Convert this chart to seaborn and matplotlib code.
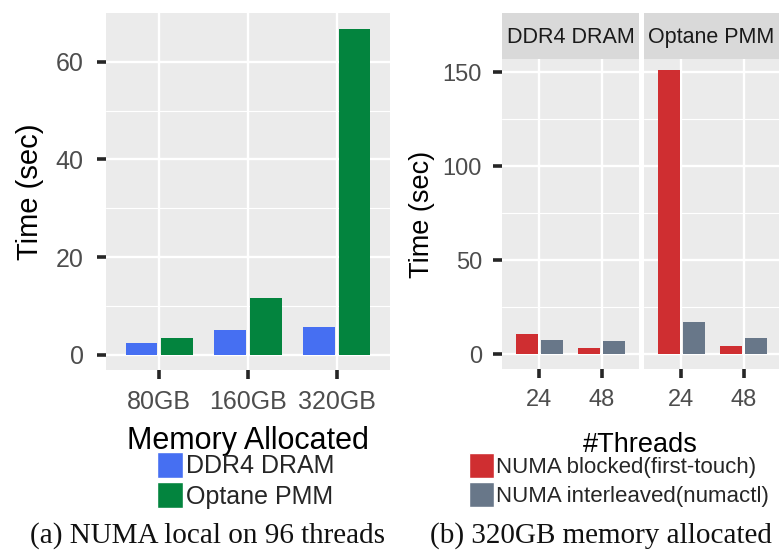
import numpy as np
import pandas as pd
import matplotlib
matplotlib.use("Agg")
import matplotlib.pyplot as plt
from matplotlib.patches import Patch
from matplotlib.ticker import FixedLocator
import seaborn as sns

# ---------------- data ----------------
mem_sizes = ["80GB", "160GB", "320GB"]
dram_local = [2.4, 5.1, 5.8]
optane_local = [3.4, 11.6, 66.6]

threads = ["24", "48"]
dram_blocked = [10.6, 3.5]
dram_interleaved = [7.8, 6.9]
pmm_blocked = [151.0, 4.3]
pmm_interleaved = [17.3, 8.7]

mem_types = ["DDR4 DRAM", "Optane PMM"]
numa_modes = ["NUMA blocked(first-touch)", "NUMA interleaved(numactl)"]

# ---------------- style ----------------
sns.set_style("darkgrid", {"axes.facecolor": "#ebebeb", "grid.color": "white"})
plt.rcParams["font.family"] = ["Liberation Sans", "DejaVu Sans"]
TICK_C = "#262626"
LAB_C = "#4d4d4d"
TICK_LEN = 6.5
TICK_W = 2.6
plt.rcParams.update({
    "xtick.bottom": True, "ytick.left": True,
    "xtick.major.size": TICK_LEN, "ytick.major.size": TICK_LEN,
    "xtick.major.width": TICK_W, "ytick.major.width": TICK_W,
    "xtick.color": TICK_C, "ytick.color": TICK_C,
    "xtick.labelcolor": LAB_C, "ytick.labelcolor": LAB_C,
    "xtick.direction": "out", "ytick.direction": "out",
})

C_BLUE = "#466ff2"
C_GREEN = "#03843e"
C_RED = "#cf2e31"
C_SLATE = "#687789"

W, H = 779, 553
fig = plt.figure(figsize=(W / 100, H / 100), dpi=100)


def rect(x0, y0, x1, y1):
    return [x0 / W, 1 - y1 / H, (x1 - x0) / W, (y1 - y0) / H]


def style_axis(ax, ylim, major, minor, xlim, fs, ypad, show_ylab=True):
    ax.set_xlim(*xlim)
    ax.set_ylim(*ylim)
    ax.yaxis.set_major_locator(FixedLocator(major))
    ax.yaxis.set_minor_locator(FixedLocator(minor))
    ax.set_axisbelow(True)
    ax.grid(False)
    ax.yaxis.grid(True, which="major", color="white", lw=1.7)
    ax.yaxis.grid(True, which="minor", color="white", lw=0.8)
    ax.xaxis.grid(True, which="major", color="white", lw=1.7)
    for s in ax.spines.values():
        s.set_visible(False)
    ax.tick_params(axis="both", which="major", length=TICK_LEN, width=TICK_W,
                   color=TICK_C, labelcolor=LAB_C, labelsize=fs,
                   bottom=True, left=True)
    ax.tick_params(axis="y", which="major", pad=ypad)
    ax.tick_params(axis="x", which="major", pad=8)
    ax.tick_params(which="minor", length=0)
    if not show_ylab:
        ax.tick_params(axis="y", labelleft=False, left=False)
    ax.set_xlabel("")
    ax.set_ylabel("")


# ---------------- panel (a) ----------------
df_a = pd.DataFrame({
    "mem": mem_sizes * 2,
    "time": dram_local + optane_local,
    "type": [mem_types[0]] * 3 + [mem_types[1]] * 3,
})
ax_a = fig.add_axes(rect(106, 13, 390, 370))
sns.barplot(data=df_a, x="mem", y="time", hue="type", order=mem_sizes,
            hue_order=mem_types, palette=[C_BLUE, C_GREEN], width=0.8,
            gap=0.1, saturation=1, legend=False, ax=ax_a, errorbar=None,
            linewidth=0)
style_axis(ax_a, (-3.07, 69.95), [0, 20, 40, 60], [10, 30, 50, 70],
           (-0.6, 2.6), 18, 9.5)

fig.text(30 / W, 1 - 192 / H, "Time (sec)", rotation=90, ha="center",
         va="center", fontsize=21, color="black")
fig.text(248 / W, 1 - 449 / H, "Memory Allocated", ha="center",
         va="baseline", fontsize=22, color="black")

fs_l = 18
fig.legend(handles=[Patch(facecolor=C_BLUE, label=mem_types[0]),
                    Patch(facecolor=C_GREEN, label=mem_types[1])],
           loc="upper left", bbox_to_anchor=(157 / W, 1 - 452 / H),
           frameon=False, fontsize=fs_l, handlelength=1.04,
           handleheight=1.22, handletextpad=0.1, labelspacing=0.15,
           borderpad=0, borderaxespad=0)

# ---------------- panel (b) ----------------
facets = [
    (mem_types[0], dram_blocked, dram_interleaved, 502, 639),
    (mem_types[1], pmm_blocked, pmm_interleaved, 644, 781),
]
for i, (name, blk, itl, x0, x1) in enumerate(facets):
    df_b = pd.DataFrame({
        "threads": threads * 2,
        "time": blk + itl,
        "mode": [numa_modes[0]] * 2 + [numa_modes[1]] * 2,
    })
    ax = fig.add_axes(rect(x0, 59, x1, 369))
    sns.barplot(data=df_b, x="threads", y="time", hue="mode", order=threads,
                hue_order=numa_modes, palette=[C_RED, C_SLATE], width=0.8,
                gap=0.1, saturation=1, legend=False, ax=ax, errorbar=None,
                linewidth=0)
    style_axis(ax, (-7.8, 157.1), [0, 50, 100, 150], [25, 75, 125],
               (-0.6, 1.6), 17, 8, show_ylab=(i == 0))
    sax = fig.add_axes(rect(x0, 13, x1, 59))
    sax.set_facecolor("#d9d9d9")
    sax.set_xticks([])
    sax.set_yticks([])
    sax.grid(False)
    for s in sax.spines.values():
        s.set_visible(False)
    sax.text(0.5 if i == 0 else 0.49, 0.46, name, transform=sax.transAxes,
             ha="center", va="center", fontsize=15.5, color="#1a1a1a")

fig.text(422 / W, 1 - 214 / H, "Time (sec)", rotation=90, ha="center",
         va="center", fontsize=19.5, color="black")
fig.text(640 / W, 1 - 452 / H, "#Threads", ha="center", va="baseline",
         fontsize=19.5, color="black")

fs_r = 16
fig.legend(handles=[Patch(facecolor=C_RED, label=numa_modes[0]),
                    Patch(facecolor=C_SLATE, label=numa_modes[1])],
           loc="upper left", bbox_to_anchor=(469 / W, 1 - 453 / H),
           frameon=False, fontsize=fs_r, handlelength=1.13,
           handleheight=1.35, handletextpad=0.1, labelspacing=0.2,
           borderpad=0, borderaxespad=0)

# ---------------- captions ----------------
cap_font = ["Liberation Serif", "DejaVu Serif"]
fig.text(208 / W, 1 - 536 / H, "(a) NUMA local on 96 threads", ha="center",
         va="center", fontsize=21, family=cap_font, color="#111111")
fig.text(601 / W, 1 - 536 / H, "(b) 320GB memory allocated", ha="center",
         va="center", fontsize=21, family=cap_font, color="#111111")

fig.savefig("out.png", dpi=100)
